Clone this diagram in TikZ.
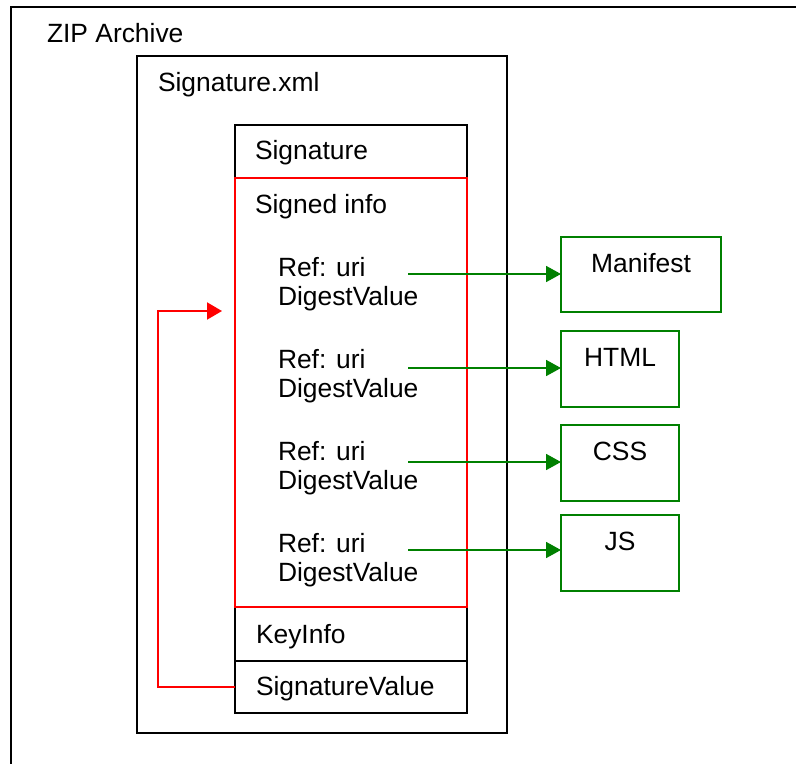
\documentclass[tikz,border=0pt]{standalone}
\usepackage{fontspec}
\setmainfont{Liberation Sans}
\usetikzlibrary{arrows.meta}
\definecolor{sigred}{RGB}{255,0,0}
\definecolor{siggreen}{RGB}{0,128,0}
\begin{document}
\begin{tikzpicture}[x=1pt,y=-1pt,
  every node/.style={inner sep=0pt, outer sep=0pt, font=\fontsize{26.4pt}{29pt}\selectfont},
  blackbox/.style={draw=black, line width=2pt, anchor=north west},
  redbox/.style={draw=sigred, line width=2pt, anchor=north west},
  greenbox/.style={draw=siggreen, line width=2pt, anchor=north west},
  lbl/.style={anchor=base west},
  clbl/.style={anchor=base},
  greenarrow/.style={draw=siggreen, line width=1.8pt, -{Triangle[length=15pt,width=16pt]}},
  redarrow/.style={draw=sigred, line width=2pt, -{Triangle[length=15pt,width=17pt]}}
]
\useasboundingbox (0,0) rectangle (796,764);
% outer ZIP archive frame (cut off at right and bottom)
\draw[line width=2pt] (796,7) -- (11,7) -- (11,764);
\node[lbl] (zip) at (47,42) {ZIP Archive};

% Signature.xml box
\node[blackbox, minimum width=370pt, minimum height=677pt] (xml) at (137,56) {};
\node[lbl] (xmllbl) at (158,91) {Signature.xml};

% inner boxes
\node[blackbox, minimum width=232pt, minimum height=53pt] (sig) at (235,125) {};
\node[blackbox, minimum width=232pt, minimum height=54pt] (key) at (235,607) {};
\node[blackbox, minimum width=232pt, minimum height=52pt] (sv) at (235,661) {};
\node[redbox, minimum width=232pt, minimum height=429pt] (si) at (235,178) {};

\node[lbl] (siglbl) at (255,159) {Signature};
\node[lbl] (silbl) at (255,213) {Signed info};
\node[lbl] (keylbl) at (256,643) {KeyInfo};
\node[lbl] (svlbl) at (256,695) {SignatureValue};

% references
\node[lbl] (ref1) at (278,276) {Ref: uri};
\node[lbl] (dig1) at (278,305) {DigestValue};
\node[lbl] (ref2) at (278,368) {Ref: uri};
\node[lbl] (dig2) at (278,397) {DigestValue};
\node[lbl] (ref3) at (278,460) {Ref: uri};
\node[lbl] (dig3) at (278,489) {DigestValue};
\node[lbl] (ref4) at (278,552) {Ref: uri};
\node[lbl] (dig4) at (278,581) {DigestValue};

% target files
\node[greenbox, minimum width=160pt, minimum height=75pt] (man) at (561,237) {};
\node[greenbox, minimum width=118pt, minimum height=76pt] (html) at (561,331) {};
\node[greenbox, minimum width=118pt, minimum height=76pt] (css) at (561,425) {};
\node[greenbox, minimum width=118pt, minimum height=76pt] (js) at (561,515) {};

\node[clbl] (manlbl) at (641,272) {Manifest};
\node[clbl] (htmllbl) at (620,366) {HTML};
\node[clbl] (csslbl) at (620,460) {CSS};
\node[clbl] (jslbl) at (620,550) {JS};

% green reference arrows
\coordinate (s1) at (408,274);
\coordinate (s2) at (408,368);
\coordinate (s3) at (408,462);
\coordinate (s4) at (408,550);
\draw[greenarrow] (s1) -- (s1 -| man.west);
\draw[greenarrow] (s2) -- (s2 -| html.west);
\draw[greenarrow] (s3) -- (s3 -| css.west);
\draw[greenarrow] (s4) -- (s4 -| js.west);

% red signature arrow
\coordinate (rtip) at (222,311);
\draw[redarrow] (sv.west) -- (158,0 |- sv.west) -- (158,311) -- (rtip);
\end{tikzpicture}
\end{document}
